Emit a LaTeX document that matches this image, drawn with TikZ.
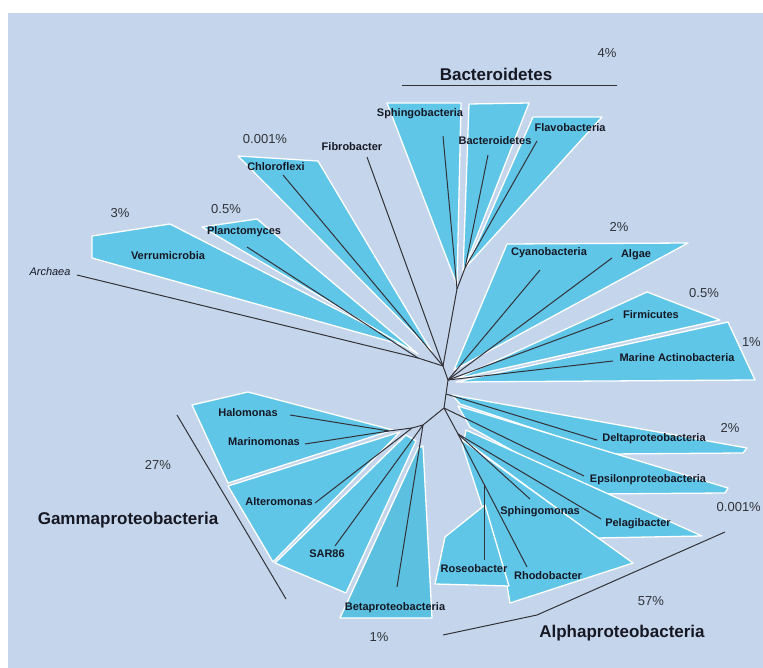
\documentclass[tikz,border=0pt]{standalone}
\usepackage{fontspec}
\setmainfont{Liberation Sans}
\definecolor{bgcol}{RGB}{197,214,236}
\definecolor{wedgecol}{RGB}{96,198,232}
\definecolor{betacol}{RGB}{92,192,224}
\definecolor{linecol}{RGB}{50,50,56}
\definecolor{textcol}{RGB}{22,24,36}
\definecolor{pctcol}{RGB}{48,50,58}
\begin{document}
\begin{tikzpicture}[x=1pt,y=-1pt,
  wedge/.style={fill=wedgecol, draw=white, line width=1.3pt, line join=round},
  br/.style={draw=linecol, line width=1pt, line join=round},
  lab/.style={font=\bfseries\fontsize{11}{13}\selectfont, text=textcol, inner sep=0pt},
  pct/.style={font=\fontsize{13}{15}\selectfont, text=pctcol, inner sep=0pt},
  big/.style={font=\bfseries\fontsize{17}{20}\selectfont, text=textcol, inner sep=0pt}]
\useasboundingbox (0,0) rectangle (763,668);
\fill[bgcol] (8,13) rectangle (763,668);

% ---- wedges ----
\draw[wedge] (92,236) -- (170,224) -- (410,347) -- (92,258) -- cycle;          % Verrumicrobia
\draw[wedge] (202,227) -- (257,219) -- (418,354) -- cycle;                     % Planctomyces
\draw[wedge] (238,156) -- (318,161) -- (432,352) -- cycle;                     % Chloroflexi
\draw[wedge] (387,103) -- (461,103) -- (457,285) -- cycle;                     % Sphingobacteria
\draw[wedge] (469,104) -- (529,103) -- (463,272) -- cycle;                     % Bacteroidetes
\draw[wedge] (533,117) -- (602,117) -- (467,266) -- cycle;                     % Flavobacteria
\draw[wedge] (507,244) -- (688,243) -- (454,370) -- cycle;                     % Cyanobacteria/Algae
\draw[wedge] (647,292) -- (720,320) -- (456,379) -- cycle;                     % Firmicutes
\draw[wedge] (728,322) -- (755,380) -- (456,382) -- cycle;                     % Marine Actinobacteria
\draw[wedge] (452,395) -- (747,448) -- (743,453) -- (610,454) -- (460,404) -- cycle; % Delta
\draw[wedge] (458,406) -- (728,488) -- (725,493) -- (590,494) -- (470,427) -- cycle; % Epsilon
\draw[wedge] (466,430) -- (702,536) -- (597,538) -- (464,440) -- cycle;        % Pelagibacter
\draw[wedge] (462,440) -- (633,563) -- (510,603) -- (506,580) -- (463,448) -- cycle; % Sphingomonas/Rhodobacter
\draw[wedge] (485,505) -- (445,537) -- (435,584) -- (509,586) -- cycle;        % Roseobacter
\draw[wedge] (192,405) -- (248,392) -- (393,430) -- (228,483) -- cycle;        % Halomonas/Marinomonas
\draw[wedge] (228,486) -- (400,432) -- (273,562) -- cycle;                     % Alteromonas
\draw[wedge] (275,563) -- (346,593) -- (416,441) -- (406,435) -- cycle;        % SAR86
\draw[wedge, fill=betacol] (418,448) -- (423,446) -- (432,618) -- (340,618) -- cycle; % Betaproteobacteria

% ---- tree coordinates ----
\coordinate (hA) at (443,366);
\coordinate (hP) at (418,358);
\coordinate (hB) at (448,380);
\coordinate (hC) at (446,394);
\coordinate (hD) at (444,408);
\coordinate (hE) at (423,425);
\coordinate (hF) at (412,428);
\coordinate (hG) at (389,431);
\coordinate (hBac) at (457,289);
\coordinate (hFl) at (465,268);
\coordinate (hAl) at (458,434);
\coordinate (hRo) at (484,484);

\coordinate (eArch) at (77,275);
\coordinate (ePlan) at (247,247);
\coordinate (eChl) at (283,175);
\coordinate (eFib) at (367,157);
\coordinate (eSphb) at (443,136);
\coordinate (eBact) at (488,155);
\coordinate (eFlav) at (537,141);
\coordinate (eCyan) at (540,270);
\coordinate (eAlg) at (612,258);
\coordinate (eFirm) at (613,319);
\coordinate (eMar) at (613,361);
\coordinate (eDel) at (597,440);
\coordinate (eEps) at (584,476);
\coordinate (ePel) at (601,519);
\coordinate (eSphm) at (530,499);
\coordinate (eRho) at (527,567);
\coordinate (eRos) at (484,560);
\coordinate (eHal) at (290,415);
\coordinate (eMarin) at (305,444);
\coordinate (eAlt) at (315,503);
\coordinate (eSAR) at (335,546);
\coordinate (eBeta) at (397,587);

% ---- tree branches ----
\draw[br] (hBac) -- (hA) -- (hB) -- (hC) -- (hD) -- (hE) -- (hF) -- (hG);
\draw[br] (eArch) -- (hP) -- (hA);
\draw[br] (ePlan) -- (hP);
\draw[br] (eChl) -- (hA);
\draw[br] (eFib) -- (hA);
\draw[br] (eSphb) -- (hBac);
\draw[br] (eBact) -- (hFl);
\draw[br] (eFlav) -- (hFl) -- (hBac);
\draw[br] (eCyan) -- (hB);
\draw[br] (eAlg) -- (hB);
\draw[br] (eFirm) -- (hB);
\draw[br] (eMar) -- (hB);
\draw[br] (eDel) -- (hC);
\draw[br] (eEps) -- (hD);
\draw[br] (hAl) -- (hD);
\draw[br] (ePel) -- (hAl);
\draw[br] (eSphm) -- (hAl);
\draw[br] (eRho) -- (hAl);
\draw[br] (eRos) -- (hRo);
\draw[br] (eHal) -- (hG);
\draw[br] (eMarin) -- (hG);
\draw[br] (eAlt) -- (hF);
\draw[br] (eSAR) -- (hE);
\draw[br] (eBeta) -- (hE);

% ---- group brackets ----
\coordinate (bb1) at (402,86);
\coordinate (bb2) at (617,86);
\draw[br] (bb1) -- (bb2);
\coordinate (gb1) at (177,415);
\coordinate (gb2) at (286,599);
\draw[br] (gb1) -- (gb2);
\coordinate (ab1) at (443,635);
\coordinate (ab2) at (537,615);
\coordinate (ab3) at (725,532);
\draw[br] (ab1) -- (ab2) -- (ab3);

% ---- labels ----
\node[big] (tBac) at (496,74) {Bacteroidetes};
\node[big] (tGam) at (128,520) {Gammaproteobacteria};
\node[big] (tAlp) at (622,633) {Alphaproteobacteria};

\node[pct] (p4) at (607,53) {4\%};
\node[pct] (p0001a) at (265,139) {0.001\%};
\node[pct] (p3) at (120,213) {3\%};
\node[pct] (p05a) at (226,209) {0.5\%};
\node[pct] (p2a) at (619,227) {2\%};
\node[pct] (p05b) at (704,293) {0.5\%};
\node[pct, anchor=east] (p1a) at (761,342) {1\%};
\node[pct] (p2b) at (730,428) {2\%};
\node[pct, anchor=east] (p0001b) at (761,507) {0.001\%};
\node[pct] (p57) at (651,601) {57\%};
\node[pct] (p27) at (158,465) {27\%};
\node[pct] (p1b) at (379,637) {1\%};

\node[lab] (lSphb) at (420,114) {Sphingobacteria};
\node[lab] (lBact) at (495,141) {Bacteroidetes};
\node[lab] (lFlav) at (570,128) {Flavobacteria};
\node[lab] (lFib) at (352,147) {Fibrobacter};
\node[lab] (lChl) at (276,167) {Chloroflexi};
\node[lab] (lPlan) at (244,232) {Planctomyces};
\node[lab] (lVerr) at (168,256) {Verrumicrobia};
\node[font=\itshape\fontsize{11}{13}\selectfont, text=textcol, inner sep=0pt] (lArch) at (50,272) {Archaea};
\node[lab] (lCyan) at (549,253) {Cyanobacteria};
\node[lab] (lAlg) at (636,255) {Algae};
\node[lab] (lFirm) at (651,315) {Firmicutes};
\node[lab] (lMar) at (677,358) {Marine Actinobacteria};
\node[lab] (lDel) at (654,439) {Deltaproteobacteria};
\node[lab] (lEps) at (648,480) {Epsilonproteobacteria};
\node[lab] (lPel) at (638,524) {Pelagibacter};
\node[lab] (lSphm) at (540,512) {Sphingomonas};
\node[lab] (lRos) at (474,569) {Roseobacter};
\node[lab] (lRho) at (548,576) {Rhodobacter};
\node[lab] (lHal) at (248,413) {Halomonas};
\node[lab] (lMarin) at (264,442) {Marinomonas};
\node[lab] (lAlt) at (279,502) {Alteromonas};
\node[lab] (lSAR) at (327,554) {SAR86};
\node[lab] (lBeta) at (395,608) {Betaproteobacteria};
\end{tikzpicture}
\end{document}
